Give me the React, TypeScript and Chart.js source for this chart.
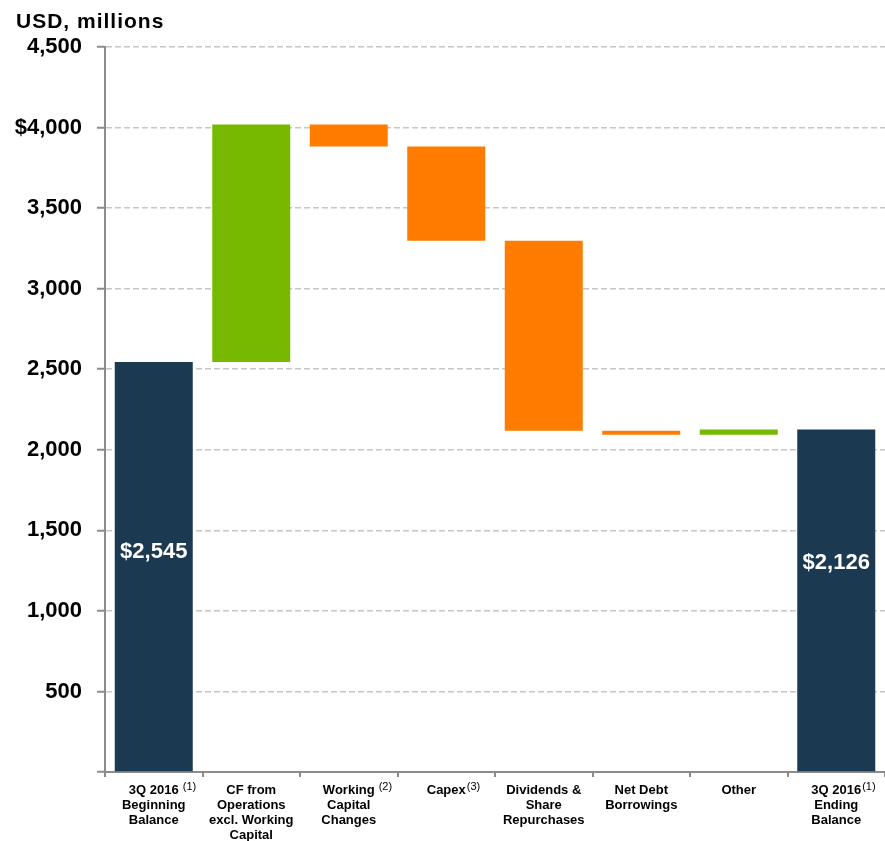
import React, { useEffect, useRef } from 'react';
import { Chart, registerables } from 'chart.js';

Chart.register(...registerables);

const categories: string[][] = [
  ['3Q 2016', 'Beginning', 'Balance'],
  ['CF from', 'Operations', 'excl. Working', 'Capital'],
  ['Working', 'Capital', 'Changes'],
  ['Capex'],
  ['Dividends &', 'Share', 'Repurchases'],
  ['Net Debt', 'Borrowings'],
  ['Other'],
  ['3Q 2016', 'Ending', 'Balance'],
];
const footnotes = [' (1)', '', ' (2)', '(3)', '', '', '', '(1)'];
const barStarts = [0, 2545, 4019, 3882, 3298, 2118, 2093, 0];
const barEnds = [2545, 4019, 3882, 3298, 2118, 2093, 2126, 2126];
const barKinds = ['total', 'increase', 'decrease', 'decrease', 'decrease', 'decrease', 'increase', 'total'];
const valueLabels = ['$2,545', '', '', '', '', '', '', '$2,126'];
const valueLabelAt = [1365, 0, 0, 0, 0, 0, 0, 1295];
const yTicks = [0, 500, 1000, 1500, 2000, 2500, 3000, 3500, 4000, 4500];
const axisTitle = 'USD, millions';

const kindColors: Record<string, string> = {
  total: '#1B3A52',
  increase: '#76B900',
  decrease: '#FF7C00',
};

const FONT = '"Liberation Sans", Arial, sans-serif';

export default function App() {
  const ref = useRef<HTMLCanvasElement | null>(null);
  useEffect(() => {
    if (!ref.current) return;
    const overlay = {
      id: 'overlay',
      afterDraw(chart: any) {
        const { ctx } = chart;
        const x = chart.scales.x;
        const y = chart.scales.y;
        ctx.save();
        // title
        ctx.fillStyle = '#000';
        ctx.font = `bold 21px ${FONT}`;
        ctx.textAlign = 'left';
        ctx.textBaseline = 'alphabetic';
        (ctx as any).letterSpacing = '1px';
        ctx.fillText(axisTitle, 16, 28);
        (ctx as any).letterSpacing = '0px';
        // x labels
        categories.forEach((lines, i) => {
          const cx = x.getPixelForValue(i);
          lines.forEach((line, j) => {
            const by = chart.chartArea.bottom + 22 + j * 15;
            ctx.font = `bold 13px ${FONT}`;
            ctx.textAlign = 'center';
            ctx.fillStyle = '#000';
            ctx.fillText(line, cx, by);
            if (j === 0 && footnotes[i]) {
              const w = ctx.measureText(line).width;
              ctx.font = `11px ${FONT}`;
              ctx.textAlign = 'left';
              ctx.fillText(footnotes[i], cx + w / 2 + 1, by - 4);
            }
          });
        });
        // value labels
        ctx.font = `bold 22px ${FONT}`;
        ctx.textAlign = 'center';
        ctx.textBaseline = 'middle';
        ctx.fillStyle = '#fff';
        valueLabels.forEach((t, i) => {
          if (!t) return;
          ctx.fillText(t, x.getPixelForValue(i), y.getPixelForValue(valueLabelAt[i]));
        });
        ctx.restore();
      },
    };
    const chart = new Chart(ref.current, {
      type: 'bar',
      data: {
        labels: categories.map((c) => c.join(' ')),
        datasets: [
          {
            data: barStarts.map((s, i) => [s, barEnds[i]]) as any,
            backgroundColor: barKinds.map((k) => kindColors[k]),
            borderWidth: 0,
            barPercentage: 0.8,
            categoryPercentage: 1,
          },
        ],
      },
      options: {
        animation: false,
        responsive: true,
        maintainAspectRatio: false,
        layout: { padding: { top: 47, left: 0, right: 0, bottom: 0 } },
        plugins: { legend: { display: false }, tooltip: { enabled: false } },
        scales: {
          x: {
            offset: true,
            ticks: { display: false },
            grid: {
              display: true,
              offset: true,
              drawOnChartArea: false,
              drawTicks: true,
              tickLength: 5,
              color: '#8c8c8c',
              lineWidth: 2,
            },
            border: { display: true, color: '#8c8c8c', width: 2 },
            afterFit(scale: any) {
              scale.height = 69;
            },
          },
          y: {
            min: 0,
            max: 4500,
            afterBuildTicks(scale: any) {
              scale.ticks = yTicks.map((v) => ({ value: v }));
            },
            ticks: {
              color: '#000',
              font: { family: FONT, size: 22, weight: 'bold' },
              padding: 15,
              callback: (v: any) => {
                const n = Number(v);
                if (n === 0) return '';
                const s = n.toLocaleString('en-US');
                return n === 4000 ? '$' + s : s;
              },
            },
            grid: {
              color: (c: any) => (c.tick && c.tick.value === 0 ? 'rgba(0,0,0,0)' : '#c6c6c6'),
              lineWidth: 1.5,
              tickBorderDash: [],
              tickColor: '#8c8c8c',
              tickWidth: 2,
              tickLength: 8,
            },
            border: { display: true, color: '#8c8c8c', width: 2, dash: [6, 3] },
            afterFit(scale: any) {
              scale.width = 105;
            },
          },
        },
      },
      plugins: [overlay],
    });
    return () => chart.destroy();
  }, []);
  return (
    <div style={{ position: 'absolute', left: 0, top: 0, width: 885, height: 841 }}>
      <canvas ref={ref} />
    </div>
  );
}
